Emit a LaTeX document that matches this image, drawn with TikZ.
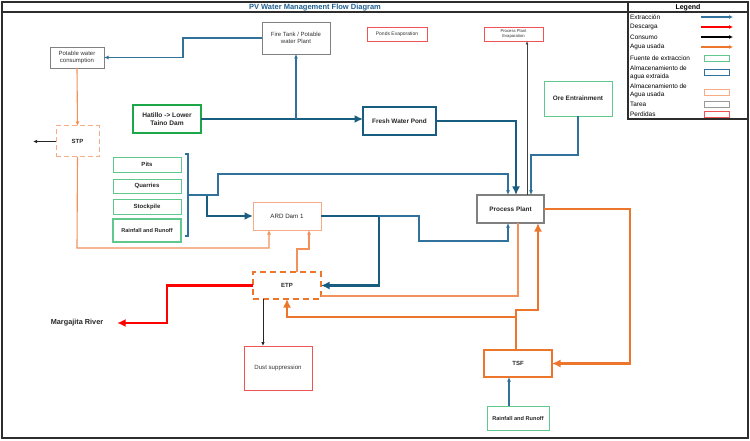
\documentclass[tikz,border=0pt]{standalone}
\usepackage{fontspec}
\setmainfont{Liberation Sans}
\usetikzlibrary{arrows.meta}
\definecolor{deepblue}{RGB}{24,92,128}
\definecolor{midblue}{RGB}{48,114,156}
\definecolor{cOrange}{RGB}{237,118,45}
\definecolor{lOrange}{RGB}{242,145,90}
\definecolor{pOrange}{RGB}{246,172,132}
\definecolor{cGreen}{RGB}{96,200,140}
\definecolor{dGreen}{RGB}{28,168,72}
\definecolor{cRed}{RGB}{240,84,84}
\definecolor{fullRed}{RGB}{255,0,0}
\definecolor{cGray}{RGB}{128,128,128}
\definecolor{txt}{RGB}{50,50,50}
\definecolor{titleblue}{RGB}{30,95,145}
\definecolor{frame}{RGB}{45,45,45}
\begin{document}
\begin{tikzpicture}[x=1pt,y=-1pt,
  box/.style={draw, rectangle, inner sep=1pt, outer sep=0pt, align=center, text=txt, font=\fontsize{6}{7.5}\selectfont},
  bbox/.style={box, font=\fontsize{6}{7.5}\selectfont\bfseries, text=black!85},
  graybox/.style={box, draw=cGray, line width=0.8pt},
  redbox/.style={box, draw=cRed, line width=0.9pt},
  greenbox/.style={bbox, draw=cGreen, line width=0.9pt},
  ext/.style={draw=midblue, line width=1.3pt, -{Latex[length=4.5pt,width=4pt]}},
  extthick/.style={draw=deepblue, line width=2.6pt, -{Latex[length=8.5pt,width=8pt]}},
  used/.style={draw=lOrange, line width=1.1pt, -{Latex[length=4.5pt,width=4pt]}},
  usedthick/.style={draw=cOrange, line width=2.6pt, -{Latex[length=8.5pt,width=8pt]}},
  cons/.style={draw=black!85, line width=0.9pt, -{Latex[length=4pt,width=3.5pt]}},
  disc/.style={draw=fullRed, line width=2.8pt, -{Latex[length=8.5pt,width=8pt]}},
  legtxt/.style={anchor=west, inner sep=0pt, text=black, font=\fontsize{6.4}{7}\selectfont}
]
\useasboundingbox (0,0) rectangle (750,441);
% frame and title
\draw[frame, line width=1.8pt] (2,2) rectangle (748,438);
\draw[frame, line width=1.4pt] (2,12) -- (628,12);
\draw[frame, line width=1.4pt] (628,2) -- (628,119) -- (748,119);
\draw[frame, line width=1.4pt] (628,12) -- (748,12);
\node[text=titleblue, font=\fontsize{7.5}{8}\selectfont\bfseries, inner sep=0pt] (title) at (315,7.3) {PV Water Management Flow Diagram};
% legend
\node[font=\fontsize{7}{8}\selectfont\bfseries, inner sep=0pt] (legend) at (688,7.3) {Legend};
\node[legtxt] (l1) at (630,17) {Extracción};
\node[legtxt] (l2) at (630,27) {Descarga};
\node[legtxt] (l3) at (630,37) {Consumo};
\node[legtxt] (l4) at (630,47) {Agua usada};
\node[legtxt] (l5) at (630,58) {Fuente de extraccion};
\node[legtxt] (l6) at (630,68) {Almacenamiento de};
\node[legtxt] (l6b) at (630,77) {agua extraida};
\node[legtxt] (l7) at (630,86) {Almacenamiento de};
\node[legtxt] (l7b) at (630,95) {Agua usada};
\node[legtxt] (l8) at (630,104) {Tarea};
\node[legtxt] (l9) at (630,114) {Perdidas};
\coordinate (a1s) at (701,17); \coordinate (a1e) at (733,17);
\coordinate (a2s) at (701,27); \coordinate (a2e) at (733,27);
\coordinate (a3s) at (701,37); \coordinate (a3e) at (733,37);
\coordinate (a4s) at (701,47); \coordinate (a4e) at (733,47);
\draw[draw=midblue, line width=1.3pt, -{Latex[length=4pt,width=4pt]}] (a1s) -- (a1e);
\draw[draw=fullRed, line width=1.5pt, -{Latex[length=4pt,width=4pt]}] (a2s) -- (a2e);
\draw[draw=black, line width=1.5pt, -{Latex[length=4pt,width=4pt]}] (a3s) -- (a3e);
\draw[draw=cOrange, line width=1.3pt, -{Latex[length=4pt,width=4pt]}] (a4s) -- (a4e);
\node[draw=cGreen, line width=0.9pt, minimum width=25pt, minimum height=6pt, inner sep=0pt] (r1) at (716.5,58) {};
\node[draw=midblue, line width=0.9pt, minimum width=25pt, minimum height=6pt, inner sep=0pt] (r2) at (716.5,72) {};
\node[draw=pOrange, line width=0.9pt, minimum width=25pt, minimum height=6pt, inner sep=0pt] (r3) at (716.5,92) {};
\node[draw=cGray!80, line width=0.9pt, minimum width=25pt, minimum height=6pt, inner sep=0pt] (r4) at (716.5,104) {};
\node[draw=cRed, line width=0.9pt, minimum width=25pt, minimum height=6pt, inner sep=0pt] (r5) at (716.5,114) {};

% nodes
\node[graybox, minimum width=54pt, minimum height=21pt] (pot) at (77,57.5) {Potable water\\consumption};
\node[bbox, draw=pOrange, line width=1pt, dash pattern=on 5pt off 3pt, minimum width=43pt, minimum height=31pt] (stp) at (77.5,141.5) {STP};
\node[bbox, draw=dGreen, line width=1.8pt, minimum width=68pt, minimum height=28pt, font=\fontsize{6.6}{8}\selectfont\bfseries] (hat) at (167,119) {Hatillo -> Lower\\Taino Dam};
\node[graybox, minimum width=68pt, minimum height=32pt] (fire) at (296,38) {Fire Tank / Potable\\water Plant};
\node[redbox, minimum width=60pt, minimum height=14pt, font=\fontsize{5}{6}\selectfont] (ponds) at (397,34) {Ponds Evaporation};
\node[redbox, minimum width=59pt, minimum height=14pt, font=\fontsize{4.2}{5.2}\selectfont] (ppe) at (513.5,34) {Process Plant\\Evaporation};
\node[bbox, draw=deepblue, line width=1.8pt, minimum width=73pt, minimum height=28pt, font=\fontsize{6.4}{8}\selectfont\bfseries] (fwp) at (399.5,121) {Fresh Water Pond};
\node[greenbox, minimum width=68pt, minimum height=35pt, font=\fontsize{6.4}{8}\selectfont\bfseries] (ore) at (578,98.5) {Ore Entrainment};
\node[greenbox, minimum width=68pt, minimum height=15pt] (pits) at (147,164.5) {Pits};
\node[greenbox, minimum width=68pt, minimum height=14pt] (quar) at (147,186) {Quarries};
\node[greenbox, minimum width=68pt, minimum height=15pt] (stock) at (147,206.5) {Stockpile};
\node[greenbox, line width=1.3pt, minimum width=68pt, minimum height=23pt, font=\fontsize{5.6}{7}\selectfont\bfseries] (rain1) at (147,230.5) {Rainfall and Runoff};
\node[box, draw=pOrange, line width=1pt, minimum width=68pt, minimum height=28pt, font=\fontsize{6.2}{7.5}\selectfont, text=black!85] (ard) at (287,216) {ARD Dam 1};
\node[bbox, draw=cOrange, line width=1.8pt, dash pattern=on 6pt off 4pt, minimum width=68pt, minimum height=27pt] (etp) at (287,285.5) {ETP};
\node[bbox, draw=cGray, line width=1.9pt, minimum width=67pt, minimum height=28pt, font=\fontsize{6.4}{8}\selectfont\bfseries] (pp) at (510.5,209) {Process Plant};
\node[redbox, minimum width=68pt, minimum height=44pt, font=\fontsize{6.1}{7.5}\selectfont] (dust) at (278,368) {Dust suppression};
\node[bbox, draw=cOrange, line width=2.2pt, minimum width=68pt, minimum height=27pt] (tsf) at (518,363.5) {TSF};
\node[greenbox, minimum width=62pt, minimum height=24pt, font=\fontsize{5.6}{7}\selectfont\bfseries] (rain2) at (518,418) {Rainfall and Runoff};
\node[font=\fontsize{7.3}{8}\selectfont\bfseries, text=black!85, inner sep=0pt, outer sep=0pt] (river) at (77,323) {Margajita River};

% bracket of sources
\coordinate (brtop) at (188,154);
\coordinate (brbot) at (188,236);
\coordinate (br) at (188,195);
\draw[midblue, line width=1.3pt] (185,154) -- (brtop) -- (brbot) -- (185,236);

% extraction connectors
\draw[ext] (fire.west) -- (183,38) |- (pot.east);
\draw[extthick] (hat.east) -- (hat.east -| fwp.west);
\draw[ext] (fire.south |- hat.east) -- (fire.south);
\draw[extthick] (br) -- (207,195) |- (ard.west);
\draw[ext] (br) -- (218,195) -- (218,174) -| ([xshift=-2.5pt]pp.north);
\draw[extthick] (ard.east) -- (379,216) |- (etp.east);
\draw[ext, line width=1.1pt] (379,216) -- (419,216) -- (419,241) -| ([xshift=-2.5pt]pp.south);
\draw[extthick] (fwp.east) -| ([xshift=5.5pt]pp.north);
\draw[ext] (ore.south) -- ++(0,39) -| ([xshift=20.5pt]pp.north);
\draw[ext, line width=1.1pt] ([xshift=-9pt]rain2.north) -- ([xshift=-9pt]rain2.north |- tsf.south);

% consumption
\coordinate (stpout) at (33,141.5);
\draw[cons] (stp.west) -- (stpout);
\draw[draw=black!75, line width=0.8pt, -{Latex[length=3.5pt,width=3pt]}] ([xshift=16.5pt]pp.north) -- ([xshift=13.5pt]ppe.south);
\draw[cons] ([xshift=-24pt]etp.south) -- ([xshift=-24pt]etp.south |- dust.north);

% used water
\draw[used] (pot.south) -- (stp.north);
\draw[used] (stp.south) -- (77,248) -| ([xshift=-18pt]ard.south);
\draw[used] ([xshift=10pt]etp.north) -- ++(0,-23) -| ([xshift=22pt]ard.south);
\draw[draw=lOrange, line width=1.1pt] ([xshift=7.5pt]pp.south) |- ([yshift=-10.5pt]etp.east);
\draw[usedthick] (pp.east) -- (630,209) |- (tsf.east);
\draw[usedthick] ([xshift=-2pt]tsf.north) -- (516,310) -| ([xshift=27.5pt]pp.south);
\draw[usedthick] (516,317) -| (etp.south);

% discharge
\draw[disc] (etp.west) -- (167,285.5) |- ([xshift=14pt]river.east);
\end{tikzpicture}
\end{document}
